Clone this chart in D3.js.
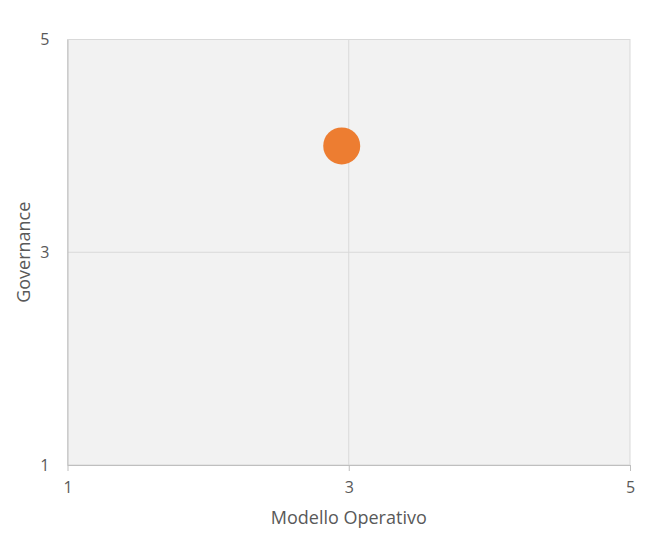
<!DOCTYPE html>
<html>
<head>
<meta charset="utf-8">
<script src="https://cdn.jsdelivr.net/npm/d3@7"></script>
<style>
  body { margin: 0; background: #fff; }
  svg { display: block; font-family: "Open Sans", sans-serif; }
</style>
</head>
<body>
<svg id="chart" width="664" height="540"></svg>
<script>
// values
var xValues = [2.95];
var yValues = [4];
var xTicks = [1, 3, 5];
var yTicks = [1, 3, 5];
var xTitle = "Modello Operativo";
var yTitle = "Governance";

var width = 664, height = 540;
var margin = {top: 39.5, right: 34, bottom: 75, left: 67.5};
var innerW = width - margin.left - margin.right;
var innerH = height - margin.top - margin.bottom;

var svg = d3.select("#chart");
var g = svg.append("g")
    .attr("transform", "translate(" + margin.left + "," + margin.top + ")");

var x = d3.scaleLinear().domain([1, 5]).range([0, innerW]);
var y = d3.scaleLinear().domain([1, 5]).range([innerH, 0]);

// plot background
g.append("rect")
    .attr("width", innerW)
    .attr("height", innerH)
    .attr("fill", "#f2f2f2")
    .attr("stroke", "#d9d9d9");

// gridlines
g.append("g")
    .selectAll("line.vg")
    .data(xTicks.slice(1, -1))
    .enter().append("line")
    .attr("x1", function(d) { return x(d); })
    .attr("x2", function(d) { return x(d); })
    .attr("y1", 0).attr("y2", innerH)
    .attr("stroke", "#d9d9d9");

g.append("g")
    .selectAll("line.hg")
    .data(yTicks.slice(1, -1))
    .enter().append("line")
    .attr("y1", function(d) { return y(d); })
    .attr("y2", function(d) { return y(d); })
    .attr("x1", 0).attr("x2", innerW)
    .attr("stroke", "#d9d9d9");

// axes
var xAxis = g.append("g")
    .attr("transform", "translate(0," + innerH + ")")
    .call(d3.axisBottom(x).tickValues(xTicks).tickFormat(d3.format("d"))
        .tickSize(6).tickPadding(11).tickSizeOuter(0));
xAxis.select(".domain").attr("stroke", "#bfbfbf");
xAxis.selectAll(".tick line").attr("stroke", "#bfbfbf");

var yAxis = g.append("g")
    .call(d3.axisLeft(y).tickValues(yTicks).tickFormat(d3.format("d"))
        .tickSize(0).tickPadding(18).tickSizeOuter(0));
yAxis.select(".domain").attr("stroke", "#bfbfbf");

svg.selectAll(".tick text")
    .attr("fill", "#595959")
    .style("font-size", "16px")
    .style("font-family", "'Open Sans', sans-serif");

// point
g.selectAll("circle")
    .data(xValues)
    .enter().append("circle")
    .attr("cx", function(d) { return x(d); })
    .attr("cy", function(d, i) { return y(yValues[i]); })
    .attr("r", 18.5)
    .attr("fill", "#ed7d31");

// axis titles
svg.append("text")
    .attr("x", margin.left + innerW / 2)
    .attr("y", 524)
    .attr("text-anchor", "middle")
    .attr("fill", "#595959")
    .style("font-size", "18px")
    .text(xTitle);

svg.append("text")
    .attr("transform", "translate(30," + (margin.top + innerH / 2) + ") rotate(-90)")
    .attr("text-anchor", "middle")
    .attr("fill", "#595959")
    .style("font-size", "18px")
    .text(yTitle);
</script>
</body>
</html>
